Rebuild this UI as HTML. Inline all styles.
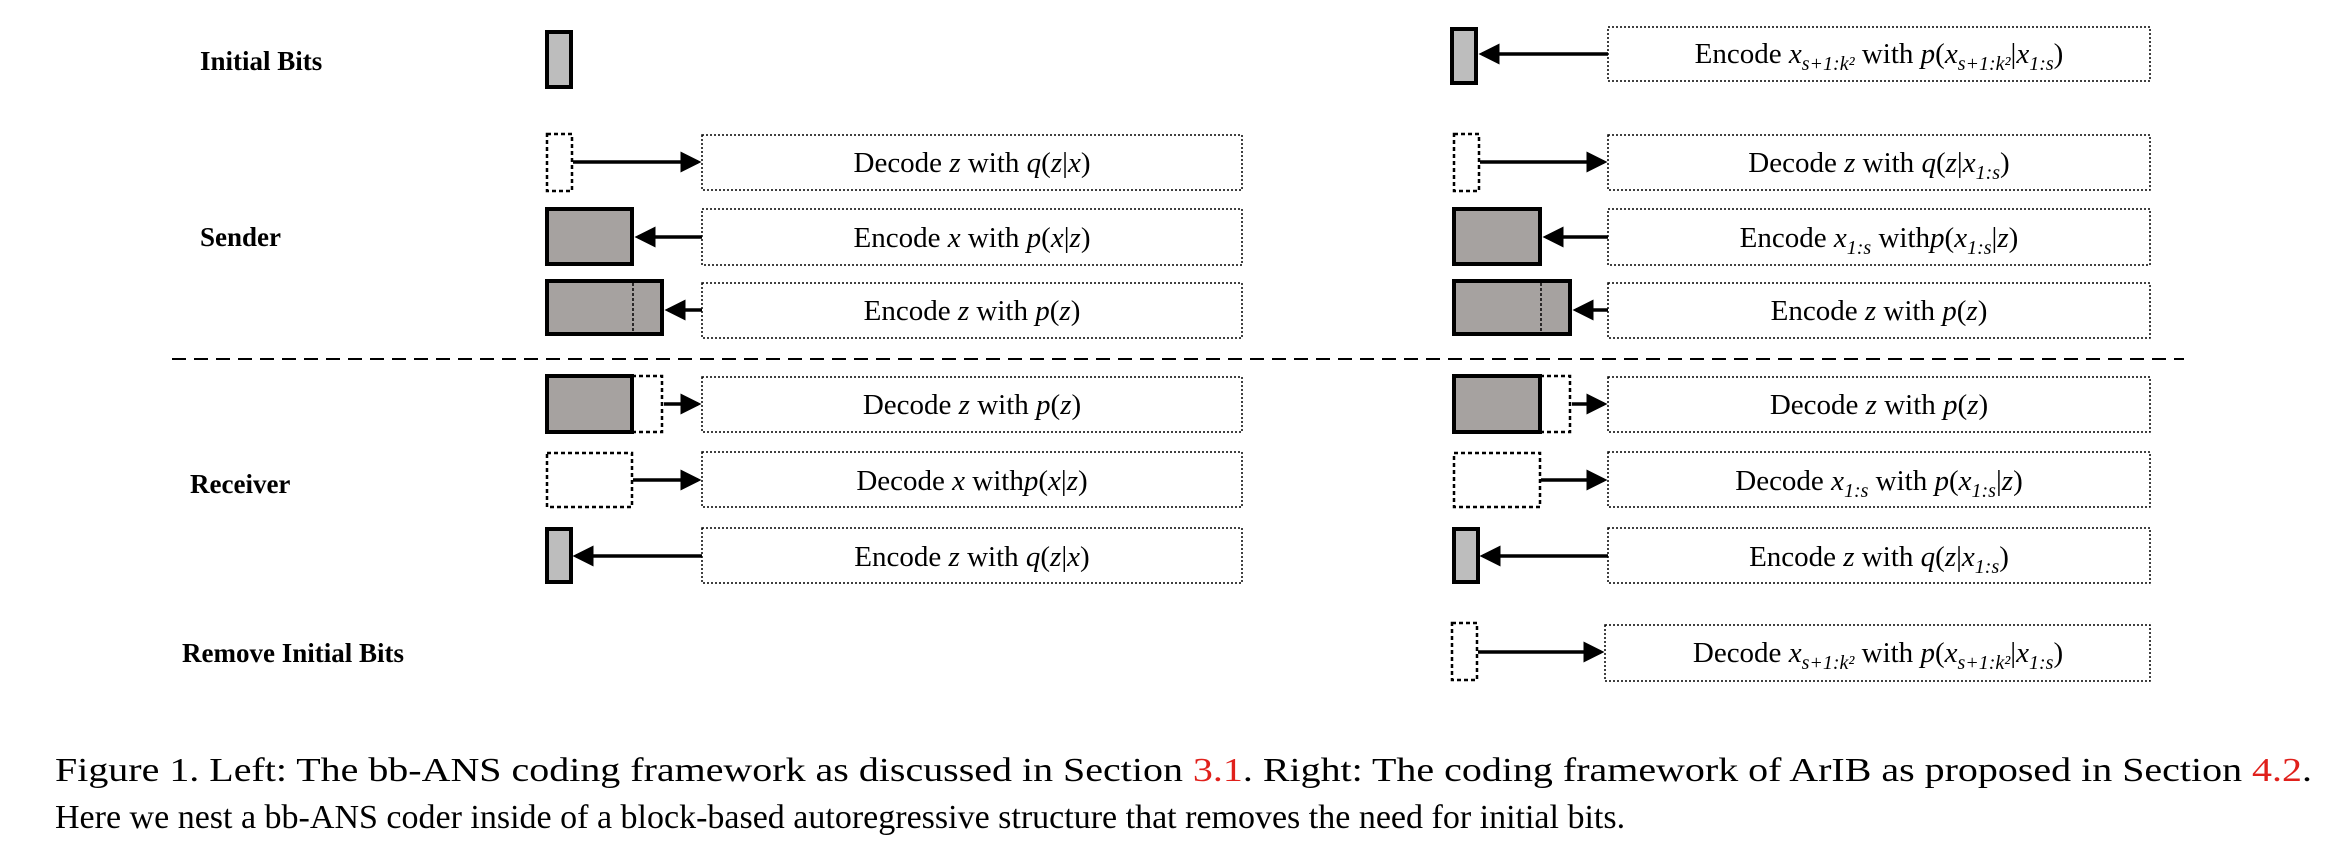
<!DOCTYPE html>
<html><head><meta charset="utf-8"><style>
body{margin:0;background:#fff;width:2346px;height:862px;overflow:hidden}
svg{position:absolute;left:0;top:0}
.lbl{font:bold 27px "Liberation Serif",serif}
.bt{font:29px "Liberation Serif",serif}
.cap{font:34px "Liberation Serif",serif}
</style></head><body>
<svg width="2346" height="862">
<defs><marker id="ah" markerWidth="6" markerHeight="6" refX="5" refY="3" orient="auto"><path d="M0,0 L6,3 L0,6z" fill="#000"/></marker></defs>
<g>
<text class="lbl" x="200" y="70">Initial Bits</text>
<text class="lbl" x="200" y="246">Sender</text>
<text class="lbl" x="190" y="493">Receiver</text>
<text class="lbl" x="182" y="662">Remove Initial Bits</text>
</g>
<line x1="172" y1="359" x2="2184" y2="359" stroke="#000" stroke-width="2" stroke-dasharray="14,8"/>
<g fill="none" stroke="#000" stroke-width="1.5" stroke-dasharray="2,2">
<rect x="702" y="135" width="540" height="55"/><rect x="702" y="209" width="540" height="56"/><rect x="702" y="283" width="540" height="55"/>
<rect x="702" y="377" width="540" height="55"/><rect x="702" y="452" width="540" height="55"/><rect x="702" y="528" width="540" height="55"/>
<rect x="1608" y="27" width="542" height="54"/><rect x="1608" y="135" width="542" height="55"/><rect x="1608" y="209" width="542" height="56"/><rect x="1608" y="283" width="542" height="55"/>
<rect x="1608" y="377" width="542" height="55"/><rect x="1608" y="452" width="542" height="55"/><rect x="1608" y="528" width="542" height="55"/><rect x="1605" y="625" width="545" height="56"/>
</g>
<g stroke="#000" stroke-width="4">
<rect x="547" y="32" width="24" height="55" fill="#bdbdbd"/>
<rect x="547" y="209" width="85" height="55" fill="#a6a2a0"/>
<rect x="547" y="281" width="115" height="53" fill="#a6a2a0"/>
<rect x="547" y="376" width="85" height="56" fill="#a6a2a0"/>
<rect x="547" y="529" width="24" height="53" fill="#bdbdbd"/>
<rect x="1452" y="29" width="24" height="54" fill="#bdbdbd"/>
<rect x="1454" y="209" width="86" height="55" fill="#a6a2a0"/>
<rect x="1454" y="281" width="116" height="53" fill="#a6a2a0"/>
<rect x="1454" y="376" width="86" height="56" fill="#a6a2a0"/>
<rect x="1454" y="529" width="24" height="53" fill="#bdbdbd"/>
</g>
<g fill="none" stroke="#000" stroke-width="2.5" stroke-dasharray="4,3">
<rect x="547" y="134" width="25" height="57"/><rect x="632" y="376" width="30" height="56"/><rect x="547" y="453" width="85" height="54"/>
<rect x="1454" y="134" width="25" height="57"/><rect x="1540" y="376" width="30" height="56"/><rect x="1454" y="453" width="86" height="54"/><rect x="1452" y="623" width="25" height="57"/>
</g>
<g stroke="#000" stroke-width="1.5" stroke-dasharray="3,2"><line x1="633" y1="283" x2="633" y2="333"/><line x1="1541" y1="283" x2="1541" y2="333"/></g>
<g stroke="#000" stroke-width="3.5" marker-end="url(#ah)">
<line x1="573" y1="162" x2="698" y2="162"/><line x1="702" y1="237" x2="638" y2="237"/><line x1="702" y1="310" x2="668" y2="310"/>
<line x1="664" y1="404" x2="698" y2="404"/><line x1="633" y1="480" x2="698" y2="480"/><line x1="702" y1="556" x2="576" y2="556"/>
<line x1="1608" y1="54" x2="1482" y2="54"/><line x1="1480" y1="162" x2="1604" y2="162"/><line x1="1608" y1="237" x2="1546" y2="237"/><line x1="1608" y1="310" x2="1576" y2="310"/>
<line x1="1572" y1="404" x2="1604" y2="404"/><line x1="1541" y1="480" x2="1604" y2="480"/><line x1="1608" y1="556" x2="1483" y2="556"/><line x1="1478" y1="652" x2="1601" y2="652"/>
</g>
<g class="bt" text-anchor="middle">
<text x="972" y="172">Decode <tspan font-style="italic">z</tspan> with <tspan font-style="italic">q</tspan>(<tspan font-style="italic">z</tspan>|<tspan font-style="italic">x</tspan>)</text>
<text x="972" y="247">Encode <tspan font-style="italic">x</tspan> with <tspan font-style="italic">p</tspan>(<tspan font-style="italic">x</tspan>|<tspan font-style="italic">z</tspan>)</text>
<text x="972" y="320">Encode <tspan font-style="italic">z</tspan> with <tspan font-style="italic">p</tspan>(<tspan font-style="italic">z</tspan>)</text>
<text x="972" y="414">Decode <tspan font-style="italic">z</tspan> with <tspan font-style="italic">p</tspan>(<tspan font-style="italic">z</tspan>)</text>
<text x="972" y="490">Decode <tspan font-style="italic">x</tspan> with<tspan font-style="italic">p</tspan>(<tspan font-style="italic">x</tspan>|<tspan font-style="italic">z</tspan>)</text>
<text x="972" y="566">Encode <tspan font-style="italic">z</tspan> with <tspan font-style="italic">q</tspan>(<tspan font-style="italic">z</tspan>|<tspan font-style="italic">x</tspan>)</text>
<text x="1879" y="63">Encode <tspan font-style="italic">x</tspan><tspan font-size="20" dy="7" font-style="italic">s+1:k²</tspan><tspan dy="-7"> with </tspan><tspan font-style="italic">p</tspan>(<tspan font-style="italic">x</tspan><tspan font-size="20" dy="7" font-style="italic">s+1:k²</tspan><tspan dy="-7">|</tspan><tspan font-style="italic">x</tspan><tspan font-size="20" dy="7" font-style="italic">1:s</tspan><tspan dy="-7">)</tspan></text>
<text x="1879" y="172">Decode <tspan font-style="italic">z</tspan> with <tspan font-style="italic">q</tspan>(<tspan font-style="italic">z</tspan>|<tspan font-style="italic">x</tspan><tspan font-size="20" dy="7" font-style="italic">1:s</tspan><tspan dy="-7">)</tspan></text>
<text x="1879" y="247">Encode <tspan font-style="italic">x</tspan><tspan font-size="20" dy="7" font-style="italic">1:s</tspan><tspan dy="-7"> with</tspan><tspan font-style="italic">p</tspan>(<tspan font-style="italic">x</tspan><tspan font-size="20" dy="7" font-style="italic">1:s</tspan><tspan dy="-7">|</tspan><tspan font-style="italic">z</tspan>)</text>
<text x="1879" y="320">Encode <tspan font-style="italic">z</tspan> with <tspan font-style="italic">p</tspan>(<tspan font-style="italic">z</tspan>)</text>
<text x="1879" y="414">Decode <tspan font-style="italic">z</tspan> with <tspan font-style="italic">p</tspan>(<tspan font-style="italic">z</tspan>)</text>
<text x="1879" y="490">Decode <tspan font-style="italic">x</tspan><tspan font-size="20" dy="7" font-style="italic">1:s</tspan><tspan dy="-7"> with </tspan><tspan font-style="italic">p</tspan>(<tspan font-style="italic">x</tspan><tspan font-size="20" dy="7" font-style="italic">1:s</tspan><tspan dy="-7">|</tspan><tspan font-style="italic">z</tspan>)</text>
<text x="1879" y="566">Encode <tspan font-style="italic">z</tspan> with <tspan font-style="italic">q</tspan>(<tspan font-style="italic">z</tspan>|<tspan font-style="italic">x</tspan><tspan font-size="20" dy="7" font-style="italic">1:s</tspan><tspan dy="-7">)</tspan></text>
<text x="1878" y="662">Decode <tspan font-style="italic">x</tspan><tspan font-size="20" dy="7" font-style="italic">s+1:k²</tspan><tspan dy="-7"> with </tspan><tspan font-style="italic">p</tspan>(<tspan font-style="italic">x</tspan><tspan font-size="20" dy="7" font-style="italic">s+1:k²</tspan><tspan dy="-7">|</tspan><tspan font-style="italic">x</tspan><tspan font-size="20" dy="7" font-style="italic">1:s</tspan><tspan dy="-7">)</tspan></text>
</g>
<g class="cap">
<text x="55" y="781" textLength="2257" lengthAdjust="spacingAndGlyphs">Figure 1. Left: The bb-ANS coding framework as discussed in Section <tspan fill="#e0201b">3.1</tspan>. Right: The coding framework of ArIB as proposed in Section <tspan fill="#e0201b">4.2</tspan>.</text>
<text x="55" y="828">Here we nest a bb-ANS coder inside of a block-based autoregressive structure that removes the need for initial bits.</text>
</g>
</svg>
</body></html>
